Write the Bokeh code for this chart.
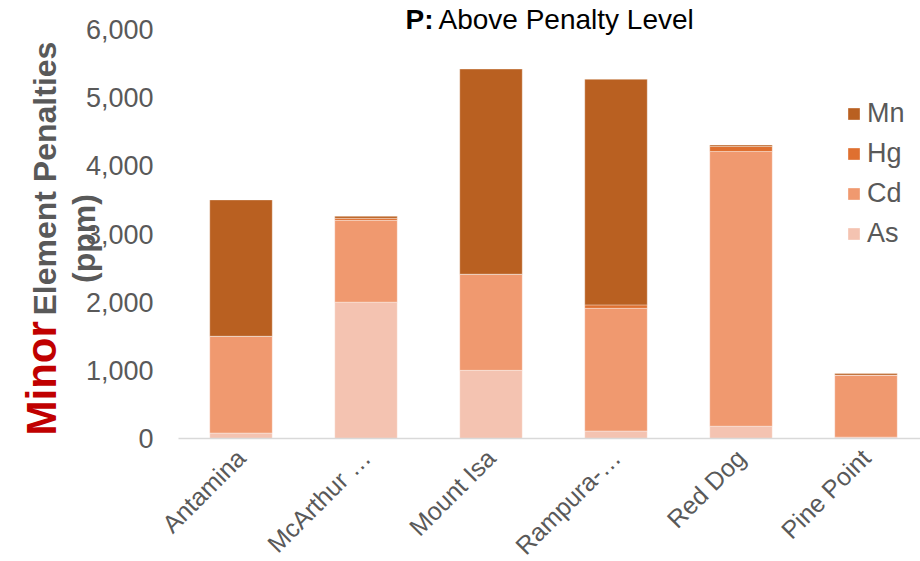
import math
from bokeh.plotting import figure
from bokeh.models import (ColumnDataSource, Range1d, FixedTicker, Legend, LegendItem,
                          Label, NumeralTickFormatter)
from bokeh.embed import file_html
from bokeh.resources import INLINE

# ---- data ----
mines = ["Antamina", "McArthur …", "Mount Isa", "Rampura-…", "Red Dog", "Pine Point"]
as_vals = [80, 2000, 1000, 110, 180, 20]
cd_vals = [1420, 1200, 1410, 1800, 4030, 910]
hg_vals = [0, 30, 0, 50, 75, 0]
mn_vals = [2000, 30, 3010, 3310, 20, 25]
elements = ["As", "Cd", "Hg", "Mn"]
colors = ["#F4C3B1", "#F0996F", "#DF7030", "#B96021"]
y_ticks = [0, 1000, 2000, 3000, 4000, 5000, 6000]

FONT = "Liberation Sans"
GREY = "#595959"

W, H = 920, 561
# page layout of the reference: category centre spacing 125px, first centre at x=240.5,
# value 0 at y=438, 6000 at y=29
CX0, STEP = 240.5, 125.0
Y0, Y6 = 438.0, 29.0
PPU = (Y0 - Y6) / 6000.0

def dx(px):
    return (px - CX0) / STEP

def dy(py):
    return (Y0 - py) / PPU

xpos = list(range(len(mines)))
src = ColumnDataSource(dict(x=xpos, As=as_vals, Cd=cd_vals, Hg=hg_vals, Mn=mn_vals))

p = figure(width=W, height=H, output_backend="svg", toolbar_location=None,
           x_range=Range1d(dx(0), dx(W)), y_range=Range1d(dy(H), dy(0)),
           min_border_left=0, min_border_right=0, min_border_top=0,
           min_border_bottom=0)
p.outline_line_color = None
p.xgrid.visible = False
p.ygrid.visible = False
p.background_fill_color = "white"
p.border_fill_color = "white"

renderers = p.vbar_stack(elements, x="x", width=0.5, color=colors, source=src,
                         line_color="white", line_alpha=0.35, line_width=1)

# y axis (drawn at the left edge of the category area)
p.yaxis.fixed_location = -0.5
p.yaxis.ticker = FixedTicker(ticks=y_ticks)
p.yaxis.formatter = NumeralTickFormatter(format="0,0")
p.yaxis.axis_line_color = None
p.yaxis.major_tick_line_color = None
p.yaxis.minor_tick_line_color = None
p.yaxis.major_tick_out = 0
p.yaxis.major_label_standoff = 25
p.yaxis.major_label_text_font = FONT
p.yaxis.major_label_text_font_size = "27px"
p.yaxis.major_label_text_color = GREY

# x axis (drawn at value 0)
p.xaxis.fixed_location = 0
p.xaxis.bounds = (-0.5, len(mines) - 0.5)
p.xaxis.ticker = FixedTicker(ticks=xpos)
p.xaxis.major_label_overrides = {i: m for i, m in enumerate(mines)}
p.xaxis.major_label_orientation = math.pi / 4
p.xaxis.axis_line_color = "#D9D9D9"
p.xaxis.axis_line_width = 1.5
p.xaxis.major_tick_line_color = None
p.xaxis.minor_tick_line_color = None
p.xaxis.major_tick_out = 0
p.xaxis.major_label_standoff = 15
p.xaxis.major_label_text_font = FONT
p.xaxis.major_label_text_font_size = "25px"
p.xaxis.major_label_text_color = GREY

# legend (Mn on top)
items = [LegendItem(label=e, renderers=[r]) for e, r in reversed(list(zip(elements, renderers)))]
legend = Legend(items=items, location=(846, 312), glyph_width=15, glyph_height=15,
                label_text_font=FONT, label_text_font_size="27px", label_text_color=GREY,
                label_standoff=6, spacing=9, padding=0, margin=0,
                border_line_color=None, background_fill_alpha=0)
p.add_layout(legend)

labels = [
    Label(x=dx(41), y=dy(435), text="Minor", angle=math.pi / 2, text_font=FONT,
          text_font_size="42px", text_font_style="bold", text_color="#C00000",
          text_align="left", text_baseline="alphabetic"),
    Label(x=dx(44), y=dy(315), text="Element Penalties", angle=math.pi / 2, text_font=FONT,
          text_font_size="32px", text_font_style="bold", text_color=GREY,
          text_align="left", text_baseline="alphabetic"),
    Label(x=dx(83), y=dy(238), text="(ppm)", angle=math.pi / 2, text_font=FONT,
          text_font_size="32px", text_font_style="bold", text_color=GREY,
          text_align="center", text_baseline="alphabetic"),
    Label(x=dx(405), y=dy(19), text="P:", text_font=FONT, text_font_size="28px",
          text_font_style="bold", text_color="black", text_align="left",
          text_baseline="alphabetic"),
    Label(x=dx(438), y=dy(19), text="Above Penalty Level", text_font=FONT,
          text_font_size="28px", text_color="black", text_align="left",
          text_baseline="alphabetic"),
]
for lb in labels:
    p.add_layout(lb)

open("out.html", "w").write(file_html(p, INLINE))
